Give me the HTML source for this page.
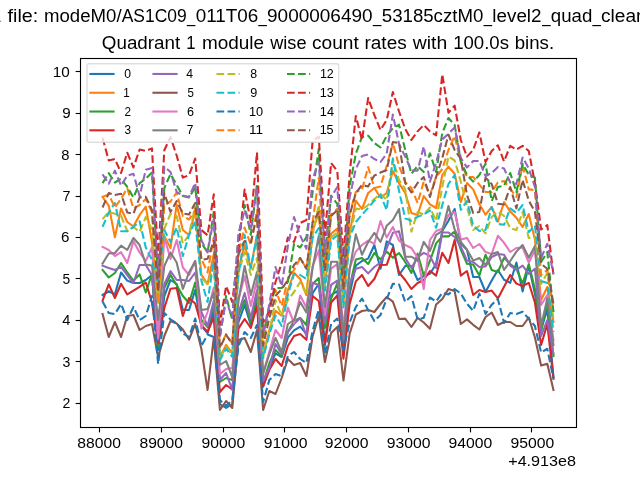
<!DOCTYPE html>
<html><head><meta charset="utf-8"><title>Quadrant 1 module wise count rates</title>
<style>
html,body{margin:0;padding:0;background:#fff;}
body{width:640px;height:480px;overflow:hidden;font-family:"Liberation Sans",sans-serif;}
svg{display:block;}
text{font-family:"Liberation Sans",sans-serif;fill:#000;}
.ln{fill:none;stroke-width:2.083;stroke-linejoin:round;}
.s{stroke-linecap:square;}
.d{stroke-dasharray:7.71 3.33;stroke-linecap:butt;}
</style></head><body>
<svg width="640" height="480" viewBox="0 0 640 480">
<rect x="0" y="0" width="640" height="480" fill="#ffffff"/>
<defs><filter id="nf" x="0" y="0" width="640" height="480" filterUnits="userSpaceOnUse"><feOffset dx="0" dy="0"/></filter><clipPath id="ax"><rect x="80.5" y="58.5" width="496" height="369"/></clipPath></defs>

<g clip-path="url(#ax)">
<polyline class="ln s" stroke="#1f77b4" points="102.55,295.00 108.73,291.25 114.90,294.40 121.08,272.50 127.26,280.60 133.44,283.00 139.61,283.00 145.79,280.00 151.97,275.00 158.14,350.00 164.32,296.00 170.50,280.00 176.67,284.00 182.85,310.00 189.03,310.00 195.20,290.00 201.38,326.15 207.56,333.14 213.74,310.52 219.91,404.00 226.09,408.00 232.27,404.00 238.44,322.17 244.62,305.00 250.80,325.00 256.97,300.00 263.15,386.63 269.33,367.89 275.51,353.31 281.68,357.01 287.86,337.65 294.04,330.39 300.21,326.55 306.39,333.89 312.57,293.14 318.75,284.00 324.92,343.00 331.10,295.11 337.28,291.06 343.45,347.00 349.63,294.53 355.81,265.60 361.98,261.00 368.16,258.60 374.34,245.00 380.51,268.75 386.69,241.40 392.87,245.00 399.05,275.00 405.22,266.00 411.40,266.00 417.58,280.00 423.75,276.11 429.93,273.75 436.11,264.00 442.28,231.00 448.46,220.80 454.64,209.00 460.82,243.40 466.99,249.70 473.17,277.00 479.35,277.00 485.52,292.00 491.70,280.50 497.88,270.00 504.06,279.70 510.23,282.80 516.41,262.50 522.59,291.40 528.76,265.60 534.94,294.00 541.12,330.00 547.29,309.00 553.47,377.00"/>
<polyline class="ln s" stroke="#ff7f0e" points="102.55,197.00 108.73,205.60 114.90,237.20 121.08,208.50 127.26,222.00 133.44,226.50 139.61,215.00 145.79,206.50 151.97,242.00 158.14,300.00 164.32,236.00 170.50,248.00 176.67,204.50 182.85,230.00 189.03,235.00 195.20,211.00 201.38,274.90 207.56,284.13 213.74,254.23 219.91,356.90 226.09,344.89 232.27,353.41 238.44,269.63 244.62,244.97 250.80,267.90 256.97,235.26 263.15,354.86 269.33,330.09 275.51,310.81 281.68,315.70 287.86,290.00 294.04,273.00 300.21,279.00 306.39,295.00 312.57,231.26 318.75,212.51 324.92,285.22 331.10,233.86 337.28,228.50 343.45,302.66 349.63,233.09 355.81,200.60 361.98,209.00 368.16,193.00 374.34,188.00 380.51,197.50 386.69,193.00 392.87,171.00 399.05,183.40 405.22,193.00 411.40,213.00 417.58,215.00 423.75,196.00 429.93,204.40 436.11,208.00 442.28,175.00 448.46,166.70 454.64,173.75 460.82,202.00 466.99,183.00 473.17,189.40 479.35,204.00 485.52,214.70 491.70,207.00 497.88,221.70 504.06,202.00 510.23,211.60 516.41,217.80 522.59,227.00 528.76,214.00 534.94,239.70 541.12,300.00 547.29,287.00 553.47,322.00"/>
<polyline class="ln s" stroke="#2ca02c" points="102.55,270.00 108.73,277.50 114.90,273.00 121.08,263.00 127.26,272.50 133.44,280.60 139.61,274.40 145.79,292.50 151.97,273.75 158.14,346.00 164.32,288.00 170.50,275.00 176.67,285.00 182.85,296.00 189.03,303.00 195.20,282.50 201.38,319.82 207.56,327.09 213.74,303.57 219.91,382.00 226.09,378.00 232.27,380.00 238.44,315.68 244.62,300.00 250.80,322.00 256.97,296.00 263.15,382.71 269.33,363.22 275.51,350.00 281.68,356.00 287.86,331.78 294.04,321.00 300.21,318.00 306.39,325.00 312.57,284.00 318.75,278.00 324.92,327.94 331.10,298.60 337.28,283.33 343.45,344.00 349.63,286.95 355.81,259.40 361.98,258.00 368.16,264.00 374.34,253.00 380.51,259.40 386.69,251.60 392.87,257.80 399.05,253.00 405.22,262.00 411.40,273.00 417.58,253.60 423.75,275.60 429.93,261.00 436.11,243.40 442.28,236.40 448.46,236.40 454.64,231.70 460.82,249.70 466.99,263.75 473.17,264.50 479.35,275.60 485.52,254.70 491.70,270.00 497.88,272.00 504.06,257.80 510.23,264.00 516.41,268.75 522.59,283.60 528.76,264.00 534.94,289.00 541.12,330.00 547.29,302.00 553.47,356.00"/>
<polyline class="ln s" stroke="#d62728" points="102.55,300.60 108.73,284.40 114.90,298.00 121.08,283.75 127.26,294.40 133.44,290.60 139.61,286.90 145.79,282.50 151.97,302.50 158.14,343.00 164.32,308.00 170.50,288.75 176.67,288.00 182.85,316.00 189.03,298.00 195.20,303.50 201.38,325.00 207.56,332.00 213.74,317.41 219.91,392.00 226.09,385.00 232.27,389.47 238.44,328.60 244.62,319.00 250.80,328.00 256.97,306.00 263.15,386.00 269.33,370.00 275.51,359.00 281.68,366.00 287.86,346.00 294.04,336.00 300.21,334.00 306.39,339.86 312.57,296.00 318.75,301.00 324.92,345.00 331.10,302.50 337.28,295.50 343.45,358.75 349.63,304.00 355.81,281.40 361.98,275.00 368.16,286.00 374.34,279.00 380.51,265.00 386.69,264.80 392.87,247.70 399.05,272.50 405.22,280.00 411.40,289.00 417.58,283.00 423.75,280.00 429.93,271.00 436.11,275.60 442.28,252.80 448.46,263.00 454.64,240.00 460.82,275.60 466.99,271.00 473.17,295.00 479.35,290.00 485.52,292.00 491.70,290.60 497.88,298.40 504.06,286.70 510.23,275.00 516.41,283.60 522.59,286.00 528.76,282.80 534.94,302.50 541.12,345.00 547.29,324.00 553.47,378.75"/>
<polyline class="ln s" stroke="#9467bd" points="102.55,265.60 108.73,268.00 114.90,270.00 121.08,266.90 127.26,275.00 133.44,283.00 139.61,265.00 145.79,265.00 151.97,275.25 158.14,340.00 164.32,284.00 170.50,271.20 176.67,280.00 182.85,280.00 189.03,281.00 195.20,272.50 201.38,312.00 207.56,326.00 213.74,301.11 219.91,380.00 226.09,373.00 232.27,390.00 238.44,313.39 244.62,293.00 250.80,318.00 256.97,290.00 263.15,381.32 269.33,368.00 275.51,344.00 281.68,354.00 287.86,332.00 294.04,324.00 300.21,318.00 306.39,336.00 312.57,282.80 318.75,285.00 324.92,323.00 331.10,284.87 337.28,280.60 343.45,340.00 349.63,284.27 355.81,268.75 361.98,267.00 368.16,273.40 374.34,267.00 380.51,262.50 386.69,248.40 392.87,232.80 399.05,231.25 405.22,258.00 411.40,268.00 417.58,257.50 423.75,252.80 429.93,256.00 436.11,268.00 442.28,232.50 448.46,232.50 454.64,237.00 460.82,246.60 466.99,260.60 473.17,262.00 479.35,267.00 485.52,266.40 491.70,257.00 497.88,254.00 504.06,254.70 510.23,265.60 516.41,270.00 522.59,265.60 528.76,274.00 534.94,268.75 541.12,336.00 547.29,320.00 553.47,354.00"/>
<polyline class="ln s" stroke="#8c564b" points="102.55,314.00 108.73,337.00 114.90,322.00 121.08,337.00 127.26,316.00 133.44,315.00 139.61,330.00 145.79,326.00 151.97,324.00 158.14,357.00 164.32,336.00 170.50,321.00 176.67,323.50 182.85,329.50 189.03,339.50 195.20,324.00 201.38,349.00 207.56,390.00 213.74,338.00 219.91,410.00 226.09,401.00 232.27,408.00 238.44,340.00 244.62,338.00 250.80,352.00 256.97,330.00 263.15,410.00 269.33,391.00 275.51,394.00 281.68,378.00 287.86,359.00 294.04,365.00 300.21,363.00 306.39,376.00 312.57,336.50 318.75,316.30 324.92,362.00 331.10,333.00 337.28,327.00 343.45,380.50 349.63,333.60 355.81,314.50 361.98,311.00 368.16,310.00 374.34,312.00 380.51,304.00 386.69,297.00 392.87,301.70 399.05,319.00 405.22,318.60 411.40,327.00 417.58,317.80 423.75,322.50 429.93,328.75 436.11,304.50 442.28,299.00 448.46,289.00 454.64,291.00 460.82,324.00 466.99,319.40 473.17,324.80 479.35,329.50 485.52,317.00 491.70,312.50 497.88,325.00 504.06,322.00 510.23,322.00 516.41,326.00 522.59,326.00 528.76,317.50 534.94,337.50 541.12,365.60 547.29,363.75 553.47,390.00"/>
<polyline class="ln s" stroke="#e377c2" points="102.55,246.90 108.73,250.00 114.90,256.00 121.08,252.20 127.26,263.00 133.44,241.25 139.61,252.50 145.79,261.00 151.97,247.50 158.14,338.00 164.32,237.00 170.50,259.00 176.67,240.00 182.85,267.50 189.03,275.00 195.20,261.00 201.38,328.75 207.56,311.99 213.74,287.50 219.91,374.00 226.09,369.00 232.27,368.00 238.44,299.50 244.62,276.00 250.80,306.00 256.97,280.00 263.15,372.92 269.33,351.58 275.51,330.00 281.68,338.00 287.86,307.50 294.04,323.00 300.21,295.60 306.39,307.50 312.57,266.44 318.75,250.29 324.92,315.00 331.10,268.68 337.28,264.06 343.45,327.94 349.63,268.02 355.81,251.60 361.98,245.00 368.16,240.60 374.34,243.75 380.51,221.00 386.69,237.50 392.87,227.00 399.05,240.60 405.22,245.00 411.40,248.00 417.58,257.50 423.75,289.00 429.93,240.00 436.11,231.00 442.28,228.60 448.46,215.00 454.64,212.00 460.82,239.50 466.99,238.00 473.17,248.00 479.35,244.00 485.52,252.00 491.70,254.00 497.88,235.80 504.06,242.80 510.23,252.00 516.41,248.00 522.59,247.50 528.76,262.50 534.94,250.00 541.12,305.00 547.29,295.00 553.47,340.00"/>
<polyline class="ln s" stroke="#7f7f7f" points="102.55,263.50 108.73,253.50 114.90,253.00 121.08,245.60 127.26,250.00 133.44,238.00 139.61,245.00 145.79,264.50 151.97,265.60 158.14,320.00 164.32,266.00 170.50,252.50 176.67,262.50 182.85,289.00 189.03,272.50 195.20,261.00 201.38,310.00 207.56,309.00 213.74,292.50 219.91,365.00 226.09,361.00 232.27,377.00 238.44,300.92 244.62,266.00 250.80,295.00 256.97,272.00 263.15,374.00 269.33,354.00 275.51,338.00 281.68,352.00 287.86,324.00 294.04,320.00 300.21,302.00 306.39,312.50 312.57,268.11 318.75,236.00 324.92,307.00 331.10,261.70 337.28,261.70 343.45,336.00 349.63,269.68 355.81,234.40 361.98,254.70 368.16,242.00 374.34,232.80 380.51,242.00 386.69,225.80 392.87,220.00 399.05,209.00 405.22,256.70 411.40,256.70 417.58,260.60 423.75,241.90 429.93,251.00 436.11,234.80 442.28,231.00 448.46,206.00 454.64,229.40 460.82,241.90 466.99,249.70 473.17,260.60 479.35,258.00 485.52,265.00 491.70,254.00 497.88,252.00 504.06,270.00 510.23,261.00 516.41,251.60 522.59,245.00 528.76,257.70 534.94,246.00 541.12,326.00 547.29,298.50 553.47,345.00"/>
<polyline class="ln d" stroke="#bcbd22" points="102.55,219.15 108.73,212.00 114.90,213.75 121.08,215.60 127.26,231.25 133.44,227.00 139.61,231.90 145.79,216.90 151.97,230.00 158.14,303.00 164.32,228.83 170.50,213.75 176.67,216.00 182.85,243.39 189.03,235.00 195.20,206.00 201.38,277.94 207.56,284.00 213.74,266.00 219.91,358.75 226.09,346.92 232.27,355.31 238.44,272.75 244.62,252.00 250.80,275.00 256.97,258.00 263.15,356.74 269.33,332.33 275.51,300.00 281.68,316.00 287.86,300.00 294.04,292.00 300.21,282.00 306.39,294.00 312.57,234.93 318.75,205.00 324.92,288.10 331.10,237.49 337.28,232.21 343.45,305.29 349.63,236.73 355.81,208.56 361.98,209.40 368.16,205.00 374.34,199.00 380.51,194.00 386.69,200.00 392.87,160.00 399.05,180.00 405.22,189.00 411.40,231.70 417.58,212.00 423.75,214.50 429.93,207.50 436.11,220.80 442.28,187.00 448.46,156.60 454.64,160.50 460.82,181.60 466.99,207.00 473.17,230.00 479.35,226.00 485.52,233.40 491.70,217.00 497.88,211.60 504.06,216.00 510.23,228.00 516.41,230.00 522.59,212.00 528.76,238.00 534.94,236.60 541.12,284.00 547.29,273.00 553.47,319.00"/>
<polyline class="ln d" stroke="#17becf" points="102.55,226.90 108.73,212.50 114.90,203.00 121.08,231.25 127.26,231.25 133.44,226.90 139.61,221.25 145.79,247.50 151.97,260.00 158.14,285.00 164.32,230.00 170.50,242.00 176.67,227.50 182.85,256.00 189.03,235.00 195.20,221.00 201.38,280.46 207.56,302.00 213.74,260.33 219.91,360.29 226.09,348.60 232.27,356.89 238.44,275.33 244.62,235.00 250.80,268.50 256.97,236.00 263.15,358.30 269.33,334.19 275.51,315.42 281.68,326.00 287.86,295.00 294.04,274.00 300.21,275.00 306.39,279.00 312.57,237.97 318.75,228.00 324.92,290.50 331.10,240.50 337.28,235.28 343.45,307.48 349.63,237.50 355.81,222.00 361.98,214.80 368.16,207.80 374.34,200.60 380.51,195.00 386.69,210.00 392.87,158.40 399.05,191.00 405.22,218.40 411.40,220.80 417.58,216.90 423.75,214.50 429.93,210.60 436.11,227.80 442.28,205.00 448.46,184.00 454.64,175.00 460.82,209.80 466.99,201.00 473.17,225.50 479.35,231.00 485.52,230.00 491.70,207.00 497.88,224.00 504.06,224.80 510.23,208.40 516.41,213.00 522.59,205.00 528.76,232.00 534.94,225.60 541.12,281.00 547.29,283.00 553.47,332.00"/>
<polyline class="ln d" stroke="#1f77b4" points="102.55,301.50 108.73,313.00 114.90,314.00 121.08,304.00 127.26,320.00 133.44,307.00 139.61,320.00 145.79,316.00 151.97,296.00 158.14,364.00 164.32,313.00 170.50,319.50 176.67,323.00 182.85,333.50 189.03,337.00 195.20,318.50 201.38,346.00 207.56,334.50 213.74,337.00 219.91,400.00 226.09,406.00 232.27,400.00 238.44,346.00 244.62,332.00 250.80,338.00 256.97,325.00 263.15,402.00 269.33,380.00 275.51,374.00 281.68,376.00 287.86,356.00 294.04,352.00 300.21,359.00 306.39,363.00 312.57,331.00 318.75,309.50 324.92,354.00 331.10,324.00 337.28,318.50 343.45,350.00 349.63,322.50 355.81,307.00 361.98,298.60 368.16,310.00 374.34,321.00 380.51,315.00 386.69,299.00 392.87,283.75 399.05,284.50 405.22,302.00 411.40,296.00 417.58,319.40 423.75,317.80 429.93,297.50 436.11,301.40 442.28,292.80 448.46,294.40 454.64,289.00 460.82,293.60 466.99,303.75 473.17,310.80 479.35,293.60 485.52,314.00 491.70,304.70 497.88,299.00 504.06,323.00 510.23,313.00 516.41,314.00 522.59,311.70 528.76,318.75 534.94,326.00 541.12,352.50 547.29,348.75 553.47,378.75"/>
<polyline class="ln d" stroke="#ff7f0e" points="102.55,196.90 108.73,194.40 114.90,207.50 121.08,198.75 127.26,188.10 133.44,208.50 139.61,205.00 145.79,199.00 151.97,212.00 158.14,303.00 164.32,205.15 170.50,201.50 176.67,192.50 182.85,216.00 189.03,219.48 195.20,210.00 201.38,258.79 207.56,272.50 213.74,237.50 219.91,347.07 226.09,334.14 232.27,343.31 238.44,253.12 244.62,227.50 250.80,245.00 256.97,210.00 263.15,344.87 269.33,306.00 275.51,290.00 281.68,306.00 287.86,279.00 294.04,270.00 300.21,258.00 306.39,268.75 312.57,222.50 318.75,178.00 324.92,269.90 331.10,214.61 337.28,208.84 343.45,288.67 349.63,213.78 355.81,192.00 361.98,189.70 368.16,167.00 374.34,188.00 380.51,186.50 386.69,166.00 392.87,143.00 399.05,166.00 405.22,182.00 411.40,188.00 417.58,203.00 423.75,181.60 429.93,195.00 436.11,177.00 442.28,169.00 448.46,150.00 454.64,136.00 460.82,162.00 466.99,177.00 473.17,177.00 479.35,184.70 485.52,192.00 491.70,192.00 497.88,182.50 504.06,181.00 510.23,188.75 516.41,197.00 522.59,165.30 528.76,189.40 534.94,190.00 541.12,275.00 547.29,270.00 553.47,310.00"/>
<polyline class="ln d" stroke="#2ca02c" points="102.55,183.10 108.73,173.10 114.90,182.50 121.08,178.75 127.26,186.90 133.44,197.50 139.61,183.10 145.79,178.75 151.97,172.50 158.14,278.00 164.32,188.00 170.50,174.00 176.67,185.00 182.85,196.00 189.03,197.50 195.20,187.50 201.38,242.83 207.56,252.50 213.74,212.00 219.91,337.33 226.09,296.00 232.27,320.00 238.44,236.77 244.62,205.00 250.80,234.77 256.97,184.40 263.15,334.98 269.33,306.44 275.51,288.00 281.68,288.00 287.86,282.00 294.04,243.75 300.21,247.50 306.39,237.00 312.57,192.54 318.75,149.00 324.92,254.72 331.10,195.54 337.28,204.00 343.45,274.82 349.63,186.50 355.81,153.75 361.98,137.00 368.16,135.70 374.34,143.00 380.51,147.50 386.69,136.00 392.87,128.00 399.05,124.70 405.22,150.00 411.40,173.75 417.58,166.00 423.75,172.00 429.93,153.40 436.11,172.00 442.28,133.00 448.46,118.00 454.64,125.00 460.82,161.00 466.99,175.00 473.17,181.60 479.35,175.00 485.52,163.75 491.70,201.00 497.88,187.00 504.06,185.60 510.23,173.00 516.41,192.00 522.59,163.75 528.76,174.70 534.94,177.80 541.12,262.00 547.29,252.00 553.47,312.00"/>
<polyline class="ln d" stroke="#d62728" points="102.55,137.80 108.73,160.50 114.90,158.90 121.08,173.00 127.26,152.70 133.44,167.50 139.61,149.50 145.79,151.00 151.97,148.40 158.14,258.00 164.32,150.30 170.50,137.00 176.67,155.50 182.85,177.60 189.03,175.20 195.20,158.50 201.38,230.00 207.56,235.30 213.74,194.40 219.91,324.91 226.09,286.00 232.27,302.00 238.44,250.00 244.62,189.50 250.80,222.00 256.97,152.50 263.15,322.37 269.33,312.00 275.51,282.00 281.68,263.00 287.86,237.50 294.04,242.00 300.21,223.00 306.39,220.00 312.57,141.00 318.75,136.50 324.92,235.37 331.10,163.00 337.28,171.00 343.45,257.16 349.63,174.00 355.81,116.00 361.98,140.00 368.16,98.00 374.34,115.00 380.51,130.00 386.69,120.00 392.87,92.00 399.05,111.50 405.22,129.00 411.40,140.00 417.58,131.40 423.75,125.00 429.93,131.40 436.11,135.30 442.28,74.40 448.46,112.70 454.64,105.60 460.82,140.00 466.99,156.60 473.17,150.00 479.35,132.40 485.52,162.00 491.70,151.00 497.88,145.30 504.06,161.40 510.23,145.80 516.41,149.70 522.59,145.80 528.76,151.00 534.94,183.00 541.12,229.50 547.29,225.00 553.47,275.00"/>
<polyline class="ln d" stroke="#9467bd" points="102.55,174.40 108.73,183.75 114.90,170.60 121.08,185.60 127.26,175.60 133.44,173.75 139.61,196.25 145.79,169.75 151.97,168.10 158.14,278.00 164.32,166.70 170.50,172.00 176.67,192.00 182.85,195.60 189.03,197.00 195.20,183.00 201.38,240.20 207.56,252.50 213.74,218.75 219.91,335.72 226.09,300.00 232.27,318.00 238.44,234.06 244.62,210.00 250.80,230.00 256.97,187.50 263.15,333.35 269.33,304.49 275.51,267.00 281.68,286.00 287.86,246.00 294.04,217.00 300.21,235.60 306.39,248.75 312.57,179.00 318.75,162.00 324.92,252.22 331.10,197.50 337.28,187.00 343.45,272.53 349.63,197.50 355.81,169.00 361.98,156.00 368.16,154.50 374.34,159.00 380.51,162.00 386.69,153.75 392.87,114.50 399.05,144.00 405.22,156.60 411.40,170.60 417.58,170.60 423.75,146.40 429.93,181.60 436.11,162.80 442.28,139.40 448.46,133.75 454.64,127.50 460.82,158.00 466.99,167.50 473.17,161.00 479.35,161.00 485.52,176.00 491.70,173.00 497.88,167.00 504.06,168.40 510.23,182.50 516.41,184.00 522.59,157.50 528.76,168.40 534.94,187.00 541.12,258.00 547.29,243.75 553.47,274.00"/>
<polyline class="ln d" stroke="#8c564b" points="102.55,207.50 108.73,193.10 114.90,195.00 121.08,193.75 127.26,212.50 133.44,213.75 139.61,197.50 145.79,196.90 151.97,210.00 158.14,291.00 164.32,193.00 170.50,212.00 176.67,201.00 182.85,213.50 189.03,214.50 195.20,203.00 201.38,259.96 207.56,258.75 213.74,241.00 219.91,347.78 226.09,334.93 232.27,344.05 238.44,254.32 244.62,241.00 250.80,242.50 256.97,215.60 263.15,345.60 269.33,318.00 275.51,296.00 281.68,289.00 287.86,280.00 294.04,265.00 300.21,258.00 306.39,268.75 312.57,222.50 318.75,212.00 324.92,271.01 331.10,216.00 337.28,210.27 343.45,289.69 349.63,215.19 355.81,193.00 361.98,185.00 368.16,186.50 374.34,175.60 380.51,172.50 386.69,170.00 392.87,142.00 399.05,143.00 405.22,183.00 411.40,192.50 417.58,183.00 423.75,177.00 429.93,197.00 436.11,177.00 442.28,158.00 448.46,134.70 454.64,150.00 460.82,159.00 466.99,195.00 473.17,213.00 479.35,212.00 485.52,177.80 491.70,184.00 497.88,203.75 504.06,204.50 510.23,187.00 516.41,208.40 522.59,180.00 528.76,200.60 534.94,211.60 541.12,264.00 547.29,268.75 553.47,304.00"/>
</g>
<rect x="80.5" y="58.5" width="496" height="369" fill="none" stroke="#000" stroke-width="1.11"/>
<line x1="99.5" y1="427.5" x2="99.5" y2="432.4" stroke="#000" stroke-width="1.11"/>
<line x1="161.5" y1="427.5" x2="161.5" y2="432.4" stroke="#000" stroke-width="1.11"/>
<line x1="223.5" y1="427.5" x2="223.5" y2="432.4" stroke="#000" stroke-width="1.11"/>
<line x1="284.5" y1="427.5" x2="284.5" y2="432.4" stroke="#000" stroke-width="1.11"/>
<line x1="346.5" y1="427.5" x2="346.5" y2="432.4" stroke="#000" stroke-width="1.11"/>
<line x1="408.5" y1="427.5" x2="408.5" y2="432.4" stroke="#000" stroke-width="1.11"/>
<line x1="470.5" y1="427.5" x2="470.5" y2="432.4" stroke="#000" stroke-width="1.11"/>
<line x1="531.5" y1="427.5" x2="531.5" y2="432.4" stroke="#000" stroke-width="1.11"/>
<line x1="75.64" y1="403.5" x2="80.5" y2="403.5" stroke="#000" stroke-width="1.11"/>
<line x1="75.64" y1="361.5" x2="80.5" y2="361.5" stroke="#000" stroke-width="1.11"/>
<line x1="75.64" y1="320.5" x2="80.5" y2="320.5" stroke="#000" stroke-width="1.11"/>
<line x1="75.64" y1="278.5" x2="80.5" y2="278.5" stroke="#000" stroke-width="1.11"/>
<line x1="75.64" y1="237.5" x2="80.5" y2="237.5" stroke="#000" stroke-width="1.11"/>
<line x1="75.64" y1="196.5" x2="80.5" y2="196.5" stroke="#000" stroke-width="1.11"/>
<line x1="75.64" y1="154.5" x2="80.5" y2="154.5" stroke="#000" stroke-width="1.11"/>
<line x1="75.64" y1="113.5" x2="80.5" y2="113.5" stroke="#000" stroke-width="1.11"/>
<line x1="75.64" y1="71.5" x2="80.5" y2="71.5" stroke="#000" stroke-width="1.11"/>
<rect x="87.0" y="63.75" width="251.75" height="78.5" rx="2.3" ry="2.3" fill="#ffffff" fill-opacity="0.8" stroke="#cccccc" stroke-opacity="0.65" stroke-width="1.39"/>
<line x1="90.41" y1="73.96" x2="113.55" y2="73.96" stroke="#1f77b4" stroke-width="2.083" stroke-linecap="square"/>
<line x1="90.41" y1="92.75" x2="113.55" y2="92.75" stroke="#ff7f0e" stroke-width="2.083" stroke-linecap="square"/>
<line x1="90.41" y1="111.53" x2="113.55" y2="111.53" stroke="#2ca02c" stroke-width="2.083" stroke-linecap="square"/>
<line x1="90.41" y1="130.32" x2="113.55" y2="130.32" stroke="#d62728" stroke-width="2.083" stroke-linecap="square"/>
<line x1="153.45" y1="73.96" x2="176.58" y2="73.96" stroke="#9467bd" stroke-width="2.083" stroke-linecap="square"/>
<line x1="153.45" y1="92.75" x2="176.58" y2="92.75" stroke="#8c564b" stroke-width="2.083" stroke-linecap="square"/>
<line x1="153.45" y1="111.53" x2="176.58" y2="111.53" stroke="#e377c2" stroke-width="2.083" stroke-linecap="square"/>
<line x1="153.45" y1="130.32" x2="176.58" y2="130.32" stroke="#7f7f7f" stroke-width="2.083" stroke-linecap="square"/>
<line x1="216.48" y1="73.96" x2="239.62" y2="73.96" stroke="#bcbd22" stroke-width="2.083" stroke-dasharray="7.71 3.33"/>
<line x1="216.48" y1="92.75" x2="239.62" y2="92.75" stroke="#17becf" stroke-width="2.083" stroke-dasharray="7.71 3.33"/>
<line x1="216.48" y1="111.53" x2="239.62" y2="111.53" stroke="#1f77b4" stroke-width="2.083" stroke-dasharray="7.71 3.33"/>
<line x1="216.48" y1="130.32" x2="239.62" y2="130.32" stroke="#ff7f0e" stroke-width="2.083" stroke-dasharray="7.71 3.33"/>
<line x1="287.01" y1="73.96" x2="310.15" y2="73.96" stroke="#2ca02c" stroke-width="2.083" stroke-dasharray="7.71 3.33"/>
<line x1="287.01" y1="92.75" x2="310.15" y2="92.75" stroke="#d62728" stroke-width="2.083" stroke-dasharray="7.71 3.33"/>
<line x1="287.01" y1="111.53" x2="310.15" y2="111.53" stroke="#9467bd" stroke-width="2.083" stroke-dasharray="7.71 3.33"/>
<line x1="287.01" y1="130.32" x2="310.15" y2="130.32" stroke="#8c564b" stroke-width="2.083" stroke-dasharray="7.71 3.33"/>
<g filter="url(#nf)">
<text x="77.37" y="448.0" font-size="14.72" textLength="43.59" lengthAdjust="spacingAndGlyphs">88000</text>
<text x="139.44" y="448.0" font-size="14.72" textLength="43.59" lengthAdjust="spacingAndGlyphs">89000</text>
<text x="201.58" y="448.0" font-size="14.72" textLength="43.75" lengthAdjust="spacingAndGlyphs">90000</text>
<text x="263.65" y="448.0" font-size="14.72" textLength="43.75" lengthAdjust="spacingAndGlyphs">91000</text>
<text x="324.69" y="448.0" font-size="14.72" textLength="43.75" lengthAdjust="spacingAndGlyphs">92000</text>
<text x="386.80" y="448.0" font-size="14.72" textLength="43.75" lengthAdjust="spacingAndGlyphs">93000</text>
<text x="448.61" y="448.0" font-size="14.72" textLength="43.75" lengthAdjust="spacingAndGlyphs">94000</text>
<text x="510.60" y="448.0" font-size="14.72" textLength="43.75" lengthAdjust="spacingAndGlyphs">95000</text>
<text x="62.41" y="408.0" font-size="14.72" textLength="7.85" lengthAdjust="spacingAndGlyphs">2</text>
<text x="62.52" y="367.0" font-size="14.72" textLength="7.85" lengthAdjust="spacingAndGlyphs">3</text>
<text x="62.28" y="325.0" font-size="14.72" textLength="8.15" lengthAdjust="spacingAndGlyphs">4</text>
<text x="62.55" y="284.0" font-size="14.72" textLength="7.68" lengthAdjust="spacingAndGlyphs">5</text>
<text x="61.08" y="242.0" font-size="14.72" textLength="8.43" lengthAdjust="spacingAndGlyphs">6</text>
<text x="62.60" y="201.0" font-size="14.72" textLength="7.94" lengthAdjust="spacingAndGlyphs">7</text>
<text x="61.32" y="160.0" font-size="14.72" textLength="8.22" lengthAdjust="spacingAndGlyphs">8</text>
<text x="62.37" y="118.0" font-size="14.72" textLength="8.43" lengthAdjust="spacingAndGlyphs">9</text>
<text x="52.74" y="77.0" font-size="14.72" textLength="17.00" lengthAdjust="spacingAndGlyphs">10</text>
<text x="508.21" y="466.0" font-size="14.72" textLength="67.83" lengthAdjust="spacingAndGlyphs">+4.913e8</text>
<text x="101.84" y="49.0" font-size="17.50" textLength="78.36" lengthAdjust="spacingAndGlyphs">Quadrant</text>
<text x="186.33" y="49.0" font-size="17.50" textLength="9.32" lengthAdjust="spacingAndGlyphs">1</text>
<text x="201.92" y="49.0" font-size="17.50" textLength="62.17" lengthAdjust="spacingAndGlyphs">module</text>
<text x="270.17" y="49.0" font-size="17.50" textLength="36.36" lengthAdjust="spacingAndGlyphs">wise</text>
<text x="312.02" y="49.0" font-size="17.50" textLength="46.73" lengthAdjust="spacingAndGlyphs">count</text>
<text x="364.50" y="49.0" font-size="17.50" textLength="42.16" lengthAdjust="spacingAndGlyphs">rates</text>
<text x="412.83" y="49.0" font-size="17.50" textLength="34.43" lengthAdjust="spacingAndGlyphs">with</text>
<text x="453.17" y="49.0" font-size="17.50" textLength="55.80" lengthAdjust="spacingAndGlyphs">100.0s</text>
<text x="514.72" y="49.0" font-size="17.50" textLength="39.34" lengthAdjust="spacingAndGlyphs">bins.</text>
<text x="-37.54" y="22.0" font-size="17.50" textLength="38.16" lengthAdjust="spacingAndGlyphs">Data</text>
<text x="7.55" y="22.0" font-size="17.50" textLength="30.71" lengthAdjust="spacingAndGlyphs">file:</text>
<text x="44.01" y="22.0" font-size="17.50" textLength="77.61" lengthAdjust="spacingAndGlyphs">modeM0/</text>
<text x="121.67" y="22.0" font-size="17.50" textLength="65.04" lengthAdjust="spacingAndGlyphs">AS1C09</text>
<text x="187.08" y="22.0" font-size="17.50" textLength="8.28" lengthAdjust="spacingAndGlyphs">_</text>
<text x="195.73" y="22.0" font-size="17.50" textLength="62.59" lengthAdjust="spacingAndGlyphs">011T06</text>
<text x="258.61" y="22.0" font-size="17.50" textLength="8.28" lengthAdjust="spacingAndGlyphs">_</text>
<text x="267.03" y="22.0" font-size="17.50" textLength="105.56" lengthAdjust="spacingAndGlyphs">9000006490</text>
<text x="372.99" y="22.0" font-size="17.50" textLength="8.28" lengthAdjust="spacingAndGlyphs">_</text>
<text x="381.81" y="22.0" font-size="17.50" textLength="101.49" lengthAdjust="spacingAndGlyphs">53185cztM0</text>
<text x="483.78" y="22.0" font-size="17.50" textLength="8.28" lengthAdjust="spacingAndGlyphs">_</text>
<text x="492.32" y="22.0" font-size="17.50" textLength="49.22" lengthAdjust="spacingAndGlyphs">level2</text>
<text x="542.35" y="22.0" font-size="17.50" textLength="8.28" lengthAdjust="spacingAndGlyphs">_</text>
<text x="550.75" y="22.0" font-size="17.50" textLength="41.54" lengthAdjust="spacingAndGlyphs">quad</text>
<text x="592.62" y="22.0" font-size="17.50" textLength="8.28" lengthAdjust="spacingAndGlyphs">_</text>
<text x="601.00" y="22.0" font-size="17.50" textLength="76.46" lengthAdjust="spacingAndGlyphs">clean.evt</text>
<text x="124.22" y="78.0" font-size="12.33" textLength="6.77" lengthAdjust="spacingAndGlyphs">0</text>
<text x="123.37" y="97.0" font-size="12.33" textLength="6.47" lengthAdjust="spacingAndGlyphs">1</text>
<text x="124.50" y="116.0" font-size="12.33" textLength="6.54" lengthAdjust="spacingAndGlyphs">2</text>
<text x="124.61" y="134.0" font-size="12.33" textLength="6.54" lengthAdjust="spacingAndGlyphs">3</text>
<text x="186.36" y="78.0" font-size="12.33" textLength="6.79" lengthAdjust="spacingAndGlyphs">4</text>
<text x="187.44" y="97.0" font-size="12.33" textLength="6.40" lengthAdjust="spacingAndGlyphs">5</text>
<text x="187.01" y="116.0" font-size="12.33" textLength="7.03" lengthAdjust="spacingAndGlyphs">6</text>
<text x="186.63" y="134.0" font-size="12.33" textLength="6.61" lengthAdjust="spacingAndGlyphs">7</text>
<text x="250.13" y="78.0" font-size="12.33" textLength="6.85" lengthAdjust="spacingAndGlyphs">8</text>
<text x="250.26" y="97.0" font-size="12.33" textLength="7.03" lengthAdjust="spacingAndGlyphs">9</text>
<text x="248.92" y="116.0" font-size="12.33" textLength="14.16" lengthAdjust="spacingAndGlyphs">10</text>
<text x="248.97" y="134.0" font-size="12.33" textLength="14.08" lengthAdjust="spacingAndGlyphs">11</text>
<text x="319.91" y="78.0" font-size="12.33" textLength="13.88" lengthAdjust="spacingAndGlyphs">12</text>
<text x="319.77" y="97.0" font-size="12.33" textLength="14.07" lengthAdjust="spacingAndGlyphs">13</text>
<text x="319.86" y="116.0" font-size="12.33" textLength="14.15" lengthAdjust="spacingAndGlyphs">14</text>
<text x="319.65" y="134.0" font-size="12.33" textLength="13.94" lengthAdjust="spacingAndGlyphs">15</text>
</g>
</svg></body></html>
